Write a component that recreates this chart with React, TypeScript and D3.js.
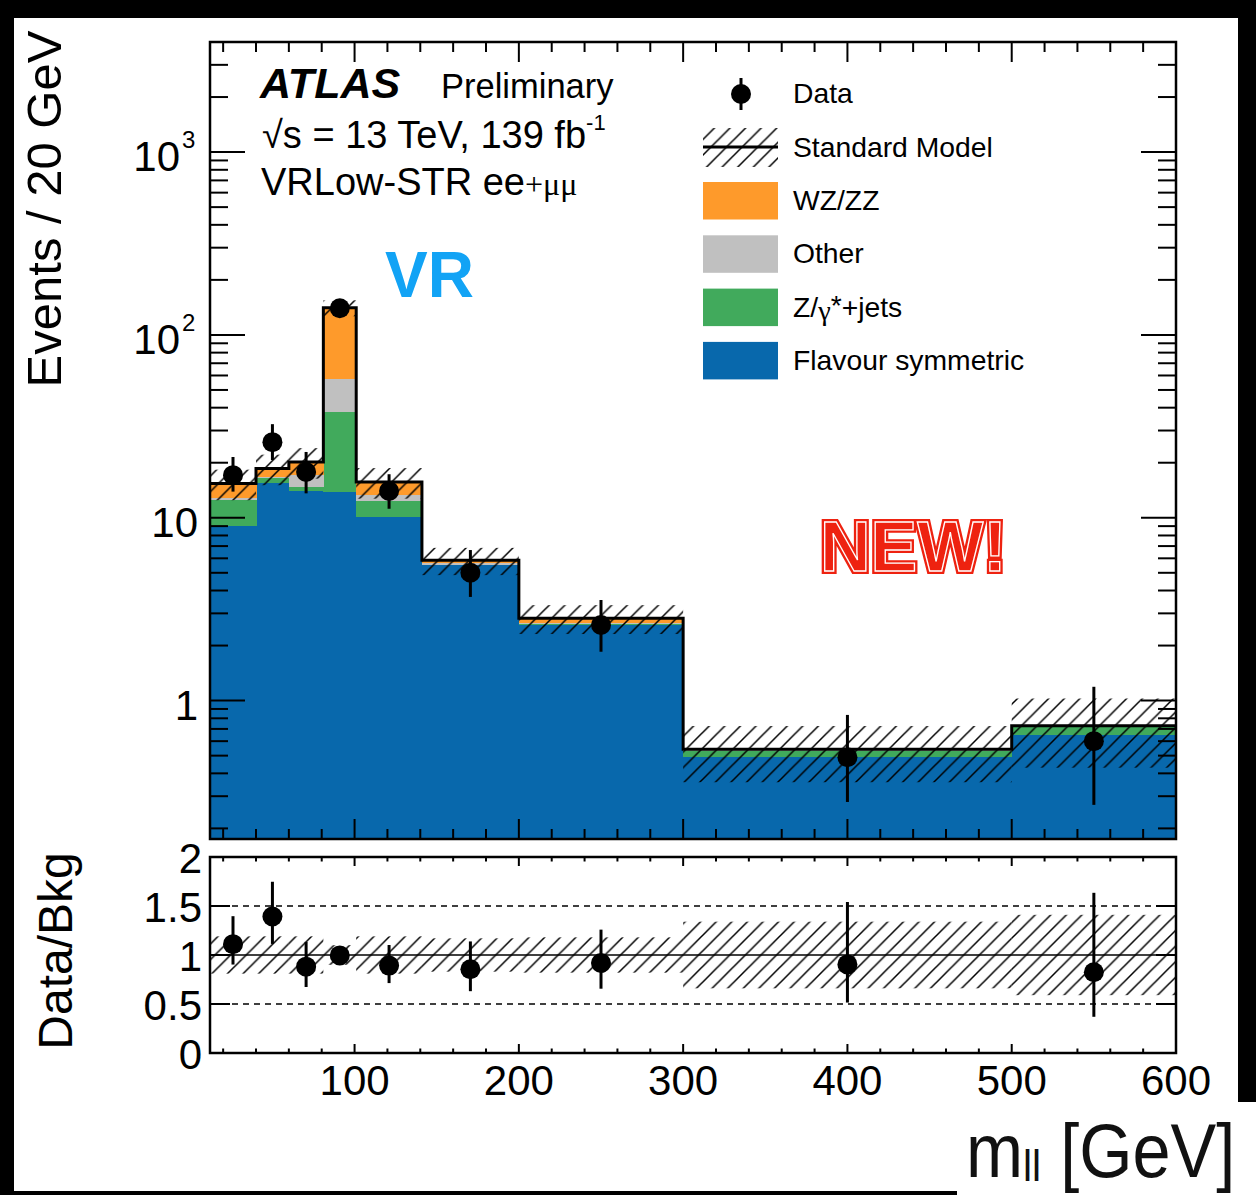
import React from "react";
import * as d3 from "d3";

// bin edges in m_ll [GeV]
const binEdges = [12, 40, 60, 81, 101, 141, 200, 300, 500, 600];

// stacked backgrounds (events / 20 GeV), bottom to top
const flavourSym = [9.0, 15.4, 14.0, 13.9, 10.1, 5.5, 2.6, 0.49, 0.65];
const zJets = [3.5, 1.0, 0.8, 23.8, 2.3, 0.05, 0.03, 0.04, 0.07];
const otherBkg = [0.4, 0.35, 2.3, 19.6, 0.9, 0.1, 0.04, 0.005, 0.005];
const wzzz = [2.5, 1.85, 3.1, 83.3, 2.4, 0.2, 0.15, 0.007, 0.003];

// relative SM uncertainty per bin
const smUnc = [0.19, 0.19, 0.19, 0.1, 0.19, 0.17, 0.18, 0.34, 0.41];

// data with error bar ends
const dataVals = [17.1, 25.9, 17.8, 140, 14.0, 5.0, 2.59, 0.49, 0.6];
const dataHi = [21.5, 32.5, 22.9, 152, 17.3, 6.66, 3.55, 0.835, 1.19];
const dataLo = [13.9, 20.7, 13.6, 128, 11.2, 3.69, 1.85, 0.279, 0.269];

const mainYLabels = [
  { v: 1000, base: "10", exp: "3" },
  { v: 100, base: "10", exp: "2" },
  { v: 10, base: "10", exp: "" },
  { v: 1, base: "1", exp: "" },
];
const ratioYLabels = ["0", "0.5", "1", "1.5", "2"];
const ratioYTicks = [0, 0.5, 1, 1.5, 2];

const legendEntries = [
  { key: "wz", label: "WZ/ZZ", color: "#fe9a2b" },
  { key: "other", label: "Other", color: "#c0c0c0" },
  { key: "zjets", label: "Z/γ*+jets", color: "#41aa5c" },
  { key: "flav", label: "Flavour symmetric", color: "#0868ac" },
];

const FONT = '"Liberation Sans", Arial, Helvetica, sans-serif';

export default function App() {
  const L = 210, R = 1176, T = 42, B = 839;
  const RT = 857, RB = 1053;

  const x = d3.scaleLinear().domain([12, 600]).range([L, R]);
  const y = d3.scaleLog().domain([0.175, 4000]).range([B, T]);
  const yr = d3.scaleLinear().domain([0, 2]).range([RB, RT]);

  const rows = binEdges.slice(0, -1).map((lo, i) => ({
    lo,
    hi: binEdges[i + 1],
    flav: flavourSym[i],
    zjets: zJets[i],
    other: otherBkg[i],
    wz: wzzz[i],
  }));
  const keys = ["flav", "zjets", "other", "wz"];
  const colors: any = { flav: "#0868ac", zjets: "#41aa5c", other: "#c0c0c0", wz: "#fe9a2b" };
  const stacked = d3.stack<any>().keys(keys)(rows as any);
  const totals = rows.map((r) => r.flav + r.zjets + r.other + r.wz);

  const yb = (v: number) => (v <= 0.175 ? B : y(v));

  const stepPts = rows.map((r, i) => [x(r.lo), y(totals[i])] as [number, number]);
  stepPts.push([x(600), y(totals[totals.length - 1])]);
  const stepPath = d3.line().curve(d3.curveStepAfter)(stepPts) as string;

  const xTicks = x.ticks(30);
  const logTicks = y.ticks().filter((v) => v >= 0.175 && v <= 4000);
  const isMajorLog = (v: number) => Math.abs(Math.log10(v) - Math.round(Math.log10(v))) < 1e-6;

  return (
    <svg
      width={1256}
      height={1195}
      style={{ position: "absolute", left: 0, top: 0, display: "block" }}
      fontFamily={FONT}
    >
      <defs>
        <pattern id="hatch" patternUnits="userSpaceOnUse" width={15.6} height={15.6}>
          <path
            d="M0,15.6 L15.6,0 M-4,4 L4,-4 M11.6,19.6 L19.6,11.6"
            stroke="black"
            strokeWidth={1.5}
          />
        </pattern>
      </defs>

      {/* black frame around the picture */}
      <rect x={0} y={0} width={1256} height={1195} fill="black" />
      <rect x={14} y={18} width={1224} height={1173} fill="white" />
      <rect x={957} y={1102} width={299} height={93} fill="white" />

      {/* stacked backgrounds */}
      {stacked.map((layer: any) => (
        <g key={layer.key} shapeRendering="crispEdges">
          {layer.map((d: any, i: number) => (
            <rect
              key={i}
              x={x(rows[i].lo)}
              width={x(rows[i].hi) - x(rows[i].lo) + 0.6}
              y={y(d[1])}
              height={Math.max(0, yb(d[0]) - y(d[1]))}
              fill={colors[layer.key]}
            />
          ))}
        </g>
      ))}

      {/* SM uncertainty */}
      {rows.map((r, i) => (
        <rect
          key={"u" + i}
          x={x(r.lo)}
          width={x(r.hi) - x(r.lo)}
          y={y(totals[i] * (1 + smUnc[i]))}
          height={y(totals[i] * (1 - smUnc[i])) - y(totals[i] * (1 + smUnc[i]))}
          fill="url(#hatch)"
        />
      ))}
      <path d={stepPath} fill="none" stroke="black" strokeWidth={3} />

      {/* data */}
      {rows.map((r, i) => {
        const cx = x((r.lo + r.hi) / 2);
        return (
          <g key={"d" + i}>
            <line x1={cx} x2={cx} y1={y(dataHi[i])} y2={y(dataLo[i])} stroke="black" strokeWidth={3} />
            <circle cx={cx} cy={y(dataVals[i])} r={10} fill="black" />
          </g>
        );
      })}

      {/* main frame and ticks */}
      <rect x={L} y={T} width={R - L} height={B - T} fill="none" stroke="black" strokeWidth={2.5} />
      {xTicks.map((v) => {
        const len = v % 100 === 0 ? 20 : 10;
        return (
          <g key={"xt" + v}>
            <line x1={x(v)} x2={x(v)} y1={T} y2={T + len} stroke="black" strokeWidth={2} />
            <line x1={x(v)} x2={x(v)} y1={B} y2={B - len} stroke="black" strokeWidth={2} />
          </g>
        );
      })}
      {logTicks.map((v) => {
        const len = isMajorLog(v) ? 35 : 18;
        return (
          <g key={"yt" + v}>
            <line x1={L} x2={L + len} y1={y(v)} y2={y(v)} stroke="black" strokeWidth={2} />
            <line x1={R} x2={R - len} y1={y(v)} y2={y(v)} stroke="black" strokeWidth={2} />
          </g>
        );
      })}
      {mainYLabels.map((d) => (
        <text
          key={"yl" + d.v}
          x={d.exp ? 180 : 198}
          y={y(d.v) + 19}
          fontSize={42}
          textAnchor="end"
        >
          {d.base}
        </text>
      ))}
      {mainYLabels
        .filter((d) => d.exp)
        .map((d) => (
          <text key={"ye" + d.v} x={182} y={y(d.v) - 4} fontSize={24}>
            {d.exp}
          </text>
        ))}

      {/* ATLAS label */}
      <text x={260} y={98} fontSize={43} fontWeight="bold" fontStyle="italic">
        ATLAS
      </text>
      <text x={441} y={98} fontSize={34.5}>
        Preliminary
      </text>
      <text x={262} y={148} fontSize={38}>
        √s = 13 TeV, 139 fb
        <tspan fontSize={22} dy={-18}>
          -1
        </tspan>
      </text>
      <text x={261} y={195} fontSize={38}>
        VRLow-STR ee
        <tspan fontSize={32} fontFamily='"Liberation Serif", serif'>
          +μμ
        </tspan>
      </text>

      <text x={385} y={297} fontSize={64} fontWeight="bold" fill="#12a3f5">
        VR
      </text>

      {/* NEW! */}
      <g fontSize={70} fontWeight="bold">
        <text x={820} y={571} fill="#ee2210" stroke="#ee2210" strokeWidth={6} strokeLinejoin="miter">
          NEW!
        </text>
        <text x={820} y={571} fill="#ee2210" stroke="white" strokeWidth={1.3}>
          NEW!
        </text>
      </g>

      {/* legend */}
      <g fontSize={28.3}>
        <line x1={741} x2={741} y1={78} y2={110} stroke="black" strokeWidth={3} />
        <circle cx={741} cy={94} r={10} fill="black" />
        <text x={793} y={103}>Data</text>

        <rect x={703} y={128} width={75} height={39} fill="url(#hatch)" />
        <line x1={703} x2={778} y1={147} y2={147} stroke="black" strokeWidth={3} />
        <text x={793} y={157}>Standard Model</text>

        {legendEntries.map((e, i) => (
          <g key={e.key}>
            <rect x={703} y={182 + i * 53.3} width={75} height={37.5} fill={e.color} />
            <text x={793} y={210 + i * 53.3}>
              {e.key === "zjets" ? (
                <>
                  Z/
                  <tspan fontFamily='"Liberation Serif", serif' dy={3}>γ</tspan>
                  <tspan dy={-5}>*</tspan>
                  <tspan dy={2}>+jets</tspan>
                </>
              ) : (
                e.label
              )}
            </text>
          </g>
        ))}
      </g>

      <text transform="translate(61,209) rotate(-90)" fontSize={49} textAnchor="middle">
        Events / 20 GeV
      </text>

      {/* ratio panel */}
      {rows.map((r, i) => (
        <rect
          key={"ru" + i}
          x={x(r.lo)}
          width={x(r.hi) - x(r.lo)}
          y={yr(1 + smUnc[i])}
          height={yr(1 - smUnc[i]) - yr(1 + smUnc[i])}
          fill="url(#hatch)"
        />
      ))}
      <line x1={L} x2={R} y1={yr(1)} y2={yr(1)} stroke="black" strokeWidth={1.5} />
      {[0.5, 1.5].map((v) => (
        <line key={"dl" + v} x1={L} x2={R} y1={yr(v)} y2={yr(v)} stroke="black" strokeWidth={1.5} strokeDasharray="6,5" />
      ))}
      {rows.map((r, i) => {
        const cx = x((r.lo + r.hi) / 2);
        return (
          <g key={"rd" + i}>
            <line
              x1={cx}
              x2={cx}
              y1={yr(dataHi[i] / totals[i])}
              y2={yr(dataLo[i] / totals[i])}
              stroke="black"
              strokeWidth={3}
            />
            <circle cx={cx} cy={yr(dataVals[i] / totals[i])} r={10} fill="black" />
          </g>
        );
      })}
      <rect x={L} y={RT} width={R - L} height={RB - RT} fill="none" stroke="black" strokeWidth={2.5} />
      {xTicks.map((v) => {
        const len = v % 100 === 0 ? 9 : 4.5;
        return (
          <g key={"rxt" + v}>
            <line x1={x(v)} x2={x(v)} y1={RT} y2={RT + len} stroke="black" strokeWidth={2} />
            <line x1={x(v)} x2={x(v)} y1={RB} y2={RB - len} stroke="black" strokeWidth={2} />
          </g>
        );
      })}
      {ratioYTicks.map((v, i) => (
        <g key={"ryt" + v}>
          <line x1={L} x2={L + 20} y1={yr(v)} y2={yr(v)} stroke="black" strokeWidth={2} />
          <line x1={R} x2={R - 20} y1={yr(v)} y2={yr(v)} stroke="black" strokeWidth={2} />
          <text x={202} y={yr(v) + 16} fontSize={42} textAnchor="end">
            {ratioYLabels[i]}
          </text>
        </g>
      ))}
      {xTicks
        .filter((v) => v % 100 === 0)
        .map((v) => (
          <text key={"xl" + v} x={x(v)} y={1095} fontSize={42} textAnchor="middle">
            {v}
          </text>
        ))}

      <text transform="translate(72,951) rotate(-90)" fontSize={48} textAnchor="middle">
        Data/Bkg
      </text>

      <text transform="translate(966,1177) scale(1.07,1.18)" fontSize={64} fill="#111">
        m
        <tspan fontSize={38} dy={3}>ll</tspan>
        <tspan dy={-3}> [GeV]</tspan>
      </text>
    </svg>
  );
}
